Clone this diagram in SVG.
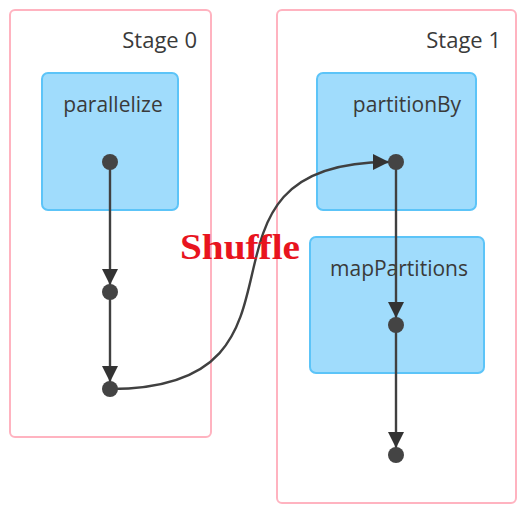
<svg xmlns="http://www.w3.org/2000/svg" width="524" height="512" viewBox="0 0 524 512">
<style>
.stage{fill:#fff;stroke:#ffb3c0;stroke-width:2}
.op{fill:#a0dcfc;stroke:#5cc4f8;stroke-width:2}
.lbl{font-family:"Open Sans","Noto Sans",sans-serif;font-size:21px;fill:#3a3a3a;text-anchor:middle}
.st{font-family:"Open Sans","Noto Sans",sans-serif;font-size:22px;fill:#3a3a3a;text-anchor:end}
.dot{fill:#444}
.edge{fill:none;stroke:#404040;stroke-width:2.4}
</style>
<defs>
<marker id="arr" markerUnits="userSpaceOnUse" markerWidth="16" markerHeight="16" refX="16" refY="8" orient="auto">
<path d="M0,0 L16,8 L0,16 z" fill="#333"/>
</marker>
</defs>
<g id="stage0"><rect class="stage" x="10" y="10" width="201" height="427" rx="5"/><text class="st" x="197" y="48">Stage 0</text></g>
<g id="stage1"><rect class="stage" x="277" y="10" width="239" height="493" rx="5"/><text class="st" x="501" y="48">Stage 1</text></g>
<g id="parallelize"><rect class="op" x="42" y="73" width="136" height="137" rx="6"/><text class="lbl" x="113" y="112">parallelize</text></g>
<g id="partitionBy"><rect class="op" x="317" y="73" width="159" height="137" rx="6"/><text class="lbl" x="407" y="112">partitionBy</text></g>
<g id="mapPartitions"><rect class="op" x="310" y="237" width="174" height="136" rx="6"/><text class="lbl" x="399" y="276">mapPartitions</text></g>
<g id="connectors">
<line class="edge" x1="110" y1="162" x2="110" y2="285" marker-end="url(#arr)"/>
<line class="edge" x1="110" y1="292" x2="110" y2="382" marker-end="url(#arr)"/>
<path class="edge" d="M110,389 C340,389 165,162 389,162" marker-end="url(#arr)"/>
<line class="edge" x1="396" y1="162" x2="396" y2="318" marker-end="url(#arr)"/>
<line class="edge" x1="396" y1="325" x2="396" y2="448" marker-end="url(#arr)"/>
</g>
<g id="n1"><circle class="dot" cx="110" cy="162" r="8"/></g>
<g id="n2"><circle class="dot" cx="110" cy="292" r="8"/></g>
<g id="n3"><circle class="dot" cx="110" cy="389" r="8"/></g>
<g id="n4"><circle class="dot" cx="396" cy="162" r="8"/></g>
<g id="n5"><circle class="dot" cx="396" cy="325" r="8"/></g>
<g id="n6"><circle class="dot" cx="396" cy="455" r="8"/></g>
<text x="180" y="259" font-family="Liberation Serif, serif" font-weight="bold" font-size="36" fill="#e8141e" textLength="120" lengthAdjust="spacingAndGlyphs">Shuffle</text>
</svg>
